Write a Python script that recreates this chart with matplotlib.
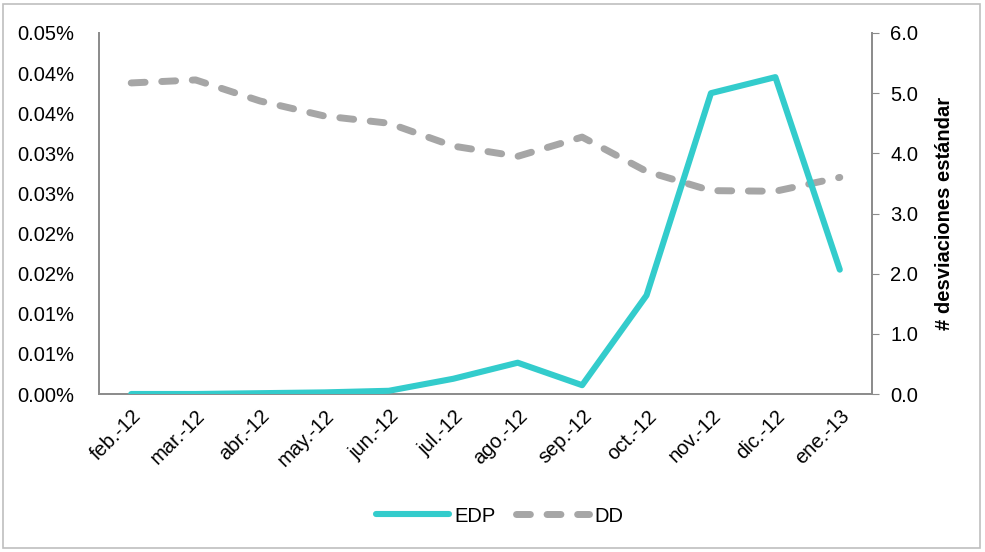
import matplotlib
matplotlib.use("Agg")
import matplotlib.pyplot as plt
from matplotlib.patches import Rectangle
from matplotlib.transforms import ScaledTranslation

plt.rcParams['font.family'] = ['Liberation Sans', 'DejaVu Sans']
plt.rcParams['lines.scale_dashes'] = False

months = ["feb.-12", "mar.-12", "abr.-12", "may.-12", "jun.-12", "jul.-12",
          "ago.-12", "sep.-12", "oct.-12", "nov.-12", "dic.-12", "ene.-13"]
# EDP in percent (left axis)
edp = [0.0000, 0.0000, 0.0001, 0.0002, 0.0004, 0.0019,
       0.0039, 0.0011, 0.0123, 0.0375, 0.0395, 0.0155]
# DD in number of standard deviations (right axis)
dd = [5.17, 5.22, 4.87, 4.62, 4.50, 4.12, 3.95, 4.27, 3.70, 3.38, 3.37, 3.60]

left_ticks = [0.0, 0.005, 0.010, 0.015, 0.020, 0.025, 0.030, 0.035, 0.040, 0.045]
left_labels = ["0.00%", "0.01%", "0.01%", "0.02%", "0.02%", "0.03%",
               "0.03%", "0.04%", "0.04%", "0.05%"]
right_ticks = [0.0, 1.0, 2.0, 3.0, 4.0, 5.0, 6.0]

W, H = 985, 552
FS = 14.5
fig = plt.figure(figsize=(W / 100, H / 100), dpi=100)
ax = fig.add_axes([99 / W, 1 - 394 / H, (872 - 99) / W, (394 - 33) / H])
ax2 = ax.twinx()

x = list(range(len(months)))
teal = "#33CCCC"
grey = "#A6A6A6"
axis_col = "#8C8C8C"

l1, = ax.plot(x, edp, color=teal, lw=4.4, solid_capstyle='round',
              solid_joinstyle='round', label="EDP", zorder=3)
l2, = ax2.plot(x, dd, color=grey, lw=5.0, dash_capstyle='round',
               dashes=(10, 12), label="DD", zorder=2)
ax.set_zorder(ax2.get_zorder() + 1)
ax.patch.set_visible(False)

ax.set_xlim(-0.5, len(months) - 0.5)
ax.set_ylim(0, 0.045)
ax2.set_ylim(0, 6)
ax.set_yticks(left_ticks)
ax.set_yticklabels(left_labels)
ax2.set_yticks(right_ticks)
ax2.set_yticklabels([f"{v:.1f}" for v in right_ticks])
ax.set_xticks(x)
ax.set_xticklabels(months, rotation=45, ha='right', va='top',
                   rotation_mode='anchor')
shift = ScaledTranslation(-6 / 100, 0, fig.dpi_scale_trans)
for lab in ax.get_xticklabels():
    lab.set_transform(lab.get_transform() + shift)

for a in (ax, ax2):
    a.spines['top'].set_visible(False)
    for s in ('left', 'right', 'bottom'):
        a.spines[s].set_color(axis_col)
        a.spines[s].set_linewidth(1.3)

ax.tick_params(axis='x', length=0, labelsize=FS, pad=9)
ax.tick_params(axis='y', length=0, labelsize=FS, pad=18)
ax2.tick_params(axis='y', length=5, color=axis_col, labelsize=FS, pad=8)
ax2.set_ylabel("# desviaciones estándar", fontsize=FS, fontweight='bold',
               labelpad=12)

fig.legend(handles=[l1, l2], loc='center', bbox_to_anchor=(500 / W, 1 - 516 / H),
           ncol=2, frameon=False, fontsize=FS, handlelength=3.6,
           columnspacing=1.0, handletextpad=0.3)

fig.patches.append(Rectangle((3 / W, 4 / H), (980 - 3) / W, (548 - 4) / H,
                             transform=fig.transFigure, fill=False,
                             edgecolor="#BFBFBF", lw=1.2))

fig.savefig("out.png", dpi=100)
